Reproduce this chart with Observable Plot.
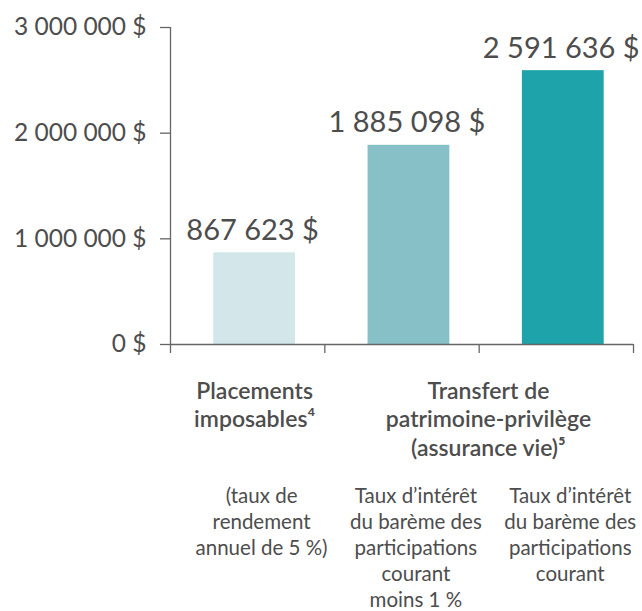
<!DOCTYPE html>
<html>
<head>
<meta charset="utf-8">
<script src="https://cdn.jsdelivr.net/npm/d3@7"></script>
<script src="https://cdn.jsdelivr.net/npm/@observablehq/plot@0.6"></script>
<style>
  html, body { margin: 0; padding: 0; background: #fff; }
</style>
</head>
<body>
<div id="chart"></div>
<script>
const categories = ["Placements imposables", "Transfert – barème moins 1 %", "Transfert – barème courant"];
const values = [867623, 1885098, 2591636];
const valueLabels = ["867 623 $", "1 885 098 $", "2 591 636 $"];
const barColors = ["#d3e7eb", "#87c1c7", "#1fa3aa"];
const groupLabels = ["Placements\nimposables⁴", "Transfert de\npatrimoine-privilège\n(assurance vie)⁵"];
const notes = [
  "(taux de\nrendement\nannuel de 5 %)",
  "Taux d’intérêt\ndu barème des\nparticipations\ncourant\nmoins 1 %",
  "Taux d’intérêt\ndu barème des\nparticipations\ncourant"
];
const yTicks = [0, 1000000, 2000000, 3000000];

const data = categories.map((c, i) => ({i, category: c, value: values[i], label: valueLabels[i], note: notes[i], color: barColors[i]}));
const groups = [
  {x: 0.545, text: groupLabels[0]},
  {x: 2.06, text: groupLabels[1]}
];

const textColor = "#4d4d4d";
const axisColor = "#666";
const fmt = d => d3.format(",")(d).replace(/,/g, " ") + " $";

const chart = Plot.plot({
  width: 642,
  height: 611,
  marginLeft: 170,
  marginRight: 9,
  marginTop: 27,
  marginBottom: 267,
  x: {domain: [0, 3], axis: null},
  y: {domain: [0, 3000000], axis: null},
  color: {type: "identity"},
  style: {fontFamily: "Lato, 'Open Sans', sans-serif", background: "white", color: textColor},
  marks: [
    Plot.rectY(data, {x1: d => d.i + 0.28, x2: d => d.i + 0.81, y: "value", fill: "color"}),
    Plot.ruleX([0], {y1: 0, y2: 3000000, stroke: axisColor, strokeWidth: 1.3}),
    Plot.ruleY([0], {x1: 0, x2: 3, stroke: axisColor, strokeWidth: 1.3}),
    Plot.axisX({ticks: [0, 1, 2, 3], tickSize: 9, tickFormat: () => "", label: null, stroke: axisColor, strokeWidth: 1.3}),
    Plot.axisY({ticks: yTicks, tickSize: 10, tickPadding: 14, tickFormat: fmt, label: null, fontSize: 24.5, fill: textColor, stroke: axisColor, strokeWidth: 1.3}),
    Plot.text(data, {x: d => d.i + 0.545, y: "value", text: "label", dy: -13, dx: -2, lineAnchor: "bottom", fontSize: 29, fill: textColor}),
    Plot.text(groups, {x: "x", y: () => 0, text: "text", dy: 35, lineAnchor: "top", lineHeight: 1.22, fontSize: 23, fontWeight: 600, fill: textColor}),
    Plot.text(data, {x: d => d.i + 0.59, y: () => 0, text: "note", dy: 140.5, lineAnchor: "top", lineHeight: 1.26, fontSize: 20.5, fill: textColor})
  ]
});
document.getElementById("chart").append(chart);
</script>
</body>
</html>
